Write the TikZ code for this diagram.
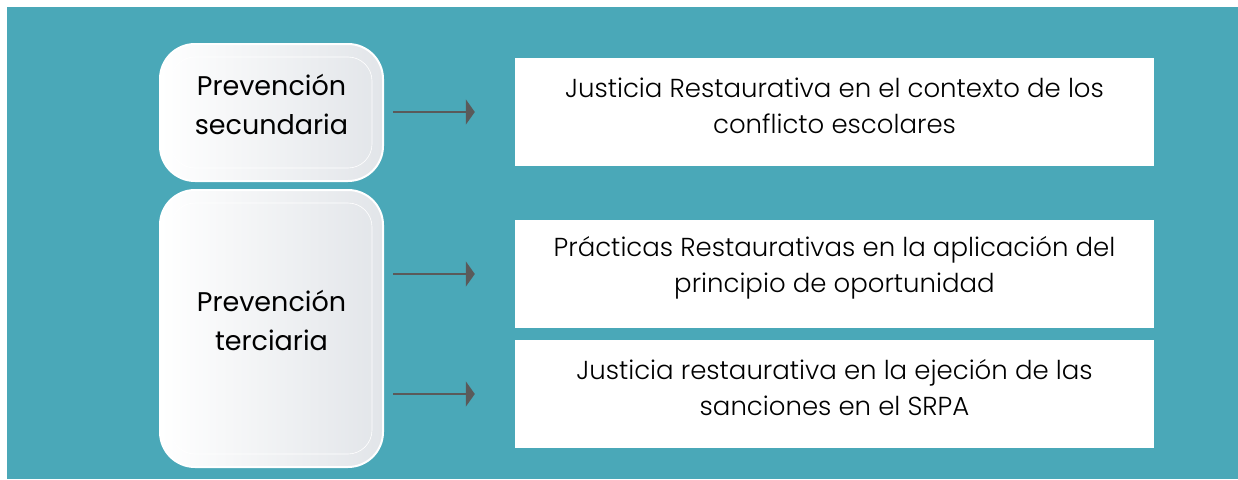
\documentclass[tikz,border=0pt]{standalone}
\usepackage{fontspec}
\setmainfont{Poppins}
\newfontfamily\thinfont{Poppins Light}
\usetikzlibrary{arrows.meta,calc}

\definecolor{tealbg}{HTML}{4AA8B8}
\definecolor{arrowgray}{HTML}{5A5A5A}
\definecolor{boxgray}{HTML}{E2E5E9}

\tikzset{
  levelbox/.style={draw=white, line width=2pt, rounded corners=35pt,
    left color=white, right color=boxgray, minimum width=223pt},
  levelname/.style={align=center, yshift=8pt,
    font=\fontsize{27}{39}\selectfont},
  textbox/.style={fill=white, minimum width=639pt, minimum height=108pt},
  textname/.style={align=center, yshift=6pt,
    font=\thinfont\fontsize{26}{36}\selectfont},
  linkarrow/.style={arrowgray, line width=2pt,
    -{Triangle[length=9pt,width=25pt]}, shorten <=9pt, shorten >=40pt}
}

\begin{document}
\begin{tikzpicture}[x=1pt, y=-1pt]
    % Background
    \useasboundingbox (0, 0) rectangle (1238, 479);
    \fill [tealbg] (7, 7) rectangle (1238, 479);

    % Prevention levels
    \node [levelbox, minimum height=137pt] (sec) at (271.5, 112.5) {};
    \node [levelbox, minimum height=277pt] (ter) at (271.5, 328.5) {};
    \foreach \n/\txt in {sec/Prevención\\secundaria, ter/Prevención\\terciaria} {
      \draw [white, semithick, rounded corners=24pt]
            ($(\n.north west)+(12, 14)$) rectangle ($(\n.south east)+(-12, -14)$);
      \node [levelname] (\n-name) at (\n.center) {\txt};
    }

    % Programmes
    \node [textbox] (escolar) at (834.5, 112) {};
    \node [textbox] (oportunidad) at (834.5, 274) {};
    \node [textbox] (srpa) at (834.5, 394) {};
    \node [textname] (escolar-txt) at (escolar.center)
          {Justicia Restaurativa en el contexto de los\\conflicto escolares};
    \node [textname] (oportunidad-txt) at (oportunidad.center)
          {Prácticas Restaurativas en la aplicación del\\principio de oportunidad};
    \node [textname] (srpa-txt) at (srpa.center)
          {Justicia restaurativa en la ejeción de las\\sanciones en el SRPA};

    % Connections
    \draw [linkarrow] (sec.east |- escolar.west) -- (escolar.west);
    \foreach \t in {oportunidad, srpa} {
      \draw [linkarrow] (ter.east |- \t.west) -- (\t.west);
    }
\end{tikzpicture}
\end{document}
